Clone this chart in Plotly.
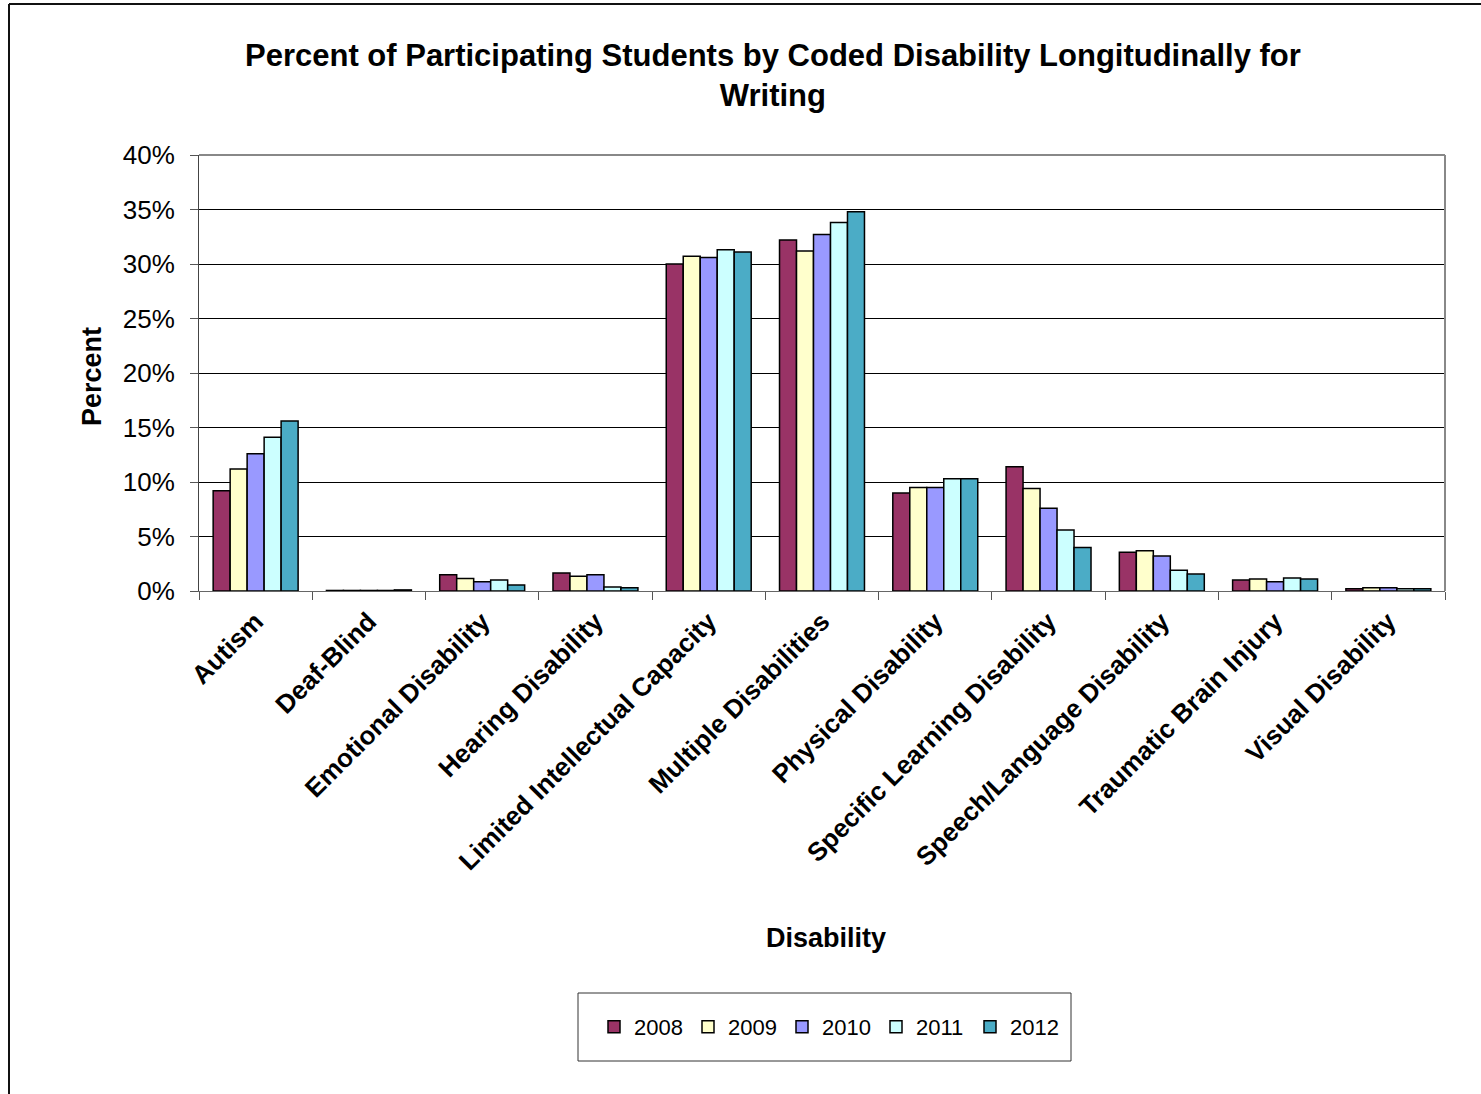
import plotly.graph_objects as go

categories = ["Autism", "Deaf-Blind", "Emotional Disability", "Hearing Disability",
              "Limited Intellectual Capacity", "Multiple Disabilities", "Physical Disability",
              "Specific Learning Disability", "Speech/Language Disability",
              "Traumatic Brain Injury", "Visual Disability"]
years = ["2008", "2009", "2010", "2011", "2012"]
v2008 = [9.2, 0.05, 1.5, 1.65, 30.0, 32.2, 9.0, 11.4, 3.55, 1.0, 0.2]
v2009 = [11.2, 0.05, 1.15, 1.35, 30.7, 31.2, 9.5, 9.4, 3.7, 1.1, 0.3]
v2010 = [12.6, 0.05, 0.85, 1.5, 30.6, 32.7, 9.5, 7.6, 3.2, 0.85, 0.3]
v2011 = [14.1, 0.05, 1.0, 0.37, 31.3, 33.8, 10.3, 5.6, 1.9, 1.2, 0.2]
v2012 = [15.6, 0.1, 0.55, 0.3, 31.1, 34.8, 10.3, 4.0, 1.55, 1.1, 0.2]
series = [v2008, v2009, v2010, v2011, v2012]
colors = ["#993366", "#FFFFCC", "#9999FF", "#CCFFFF", "#4BACC6"]
y_ticks = [0, 5, 10, 15, 20, 25, 30, 35, 40]

FONT = "Arial, 'Liberation Sans', sans-serif"
W, H = 1481, 1094
L, R, T, B = 199, 1445, 155, 591


def px(x):
    return (x - L) / (R - L)


def py(y):
    return (B - y) / (B - T)


fig = go.Figure()
for yr, vals, c in zip(years, series, colors):
    fig.add_trace(go.Bar(name=yr, x=categories, y=vals, marker_color=c,
                         marker_line_color="#000000", marker_line_width=1.5))

fig.update_layout(
    width=W, height=H,
    margin=dict(l=L, r=W - R, t=T, b=H - B, autoexpand=False),
    paper_bgcolor="white", plot_bgcolor="white",
    barmode="group", bargap=0.25, bargroupgap=0,
    font=dict(family=FONT, color="black"),
    showlegend=True,
    legend=dict(orientation="h", x=px(594), y=py(1027), xanchor="left", yanchor="middle",
                font=dict(size=22, family=FONT), bgcolor="rgba(0,0,0,0)",
                borderwidth=0, entrywidth=49, entrywidthmode="pixels",
                itemwidth=30, tracegroupgap=0),
    xaxis=dict(type="category", tickangle=-45, tickson="boundaries", ticks="outside",
               ticklen=8, tickcolor="#555555", showline=True, linecolor="#666666",
               linewidth=1, showgrid=False, automargin=False, ticklabelstandoff=4,
               tickfont=dict(size=26, family=FONT, weight="bold"),
               mirror=False),
    yaxis=dict(range=[0, 40], tickvals=y_ticks, ticktext=[f"{v}%" for v in y_ticks],
               ticks="outside", ticklen=8, tickcolor="#555555", showline=True,
               linecolor="#444444", linewidth=1, showgrid=True, gridcolor="#000000",
               gridwidth=1, zeroline=False, automargin=False, ticklabelstandoff=10,
               tickfont=dict(size=26, family=FONT)),
    annotations=[
        dict(text="<b>Percent of Participating Students by Coded Disability Longitudinally for<br>Writing</b>",
             x=px(773), y=py(75), xref="paper", yref="paper", showarrow=False,
             font=dict(size=31, family=FONT), xanchor="center", yanchor="middle"),
        dict(text="<b>Percent</b>", x=px(92), y=py(377), xref="paper", yref="paper",
             showarrow=False, textangle=-90, font=dict(size=27, family=FONT),
             xanchor="center", yanchor="middle"),
        dict(text="<b>Disability</b>", x=px(826), y=py(938), xref="paper", yref="paper",
             showarrow=False, font=dict(size=27, family=FONT),
             xanchor="center", yanchor="middle"),
    ],
    shapes=[
        # outer chart frame (left and top edges visible)
        dict(type="line", xref="paper", yref="paper", x0=px(9), x1=px(9), y0=py(4), y1=py(1100),
             line=dict(color="#111111", width=2)),
        dict(type="line", xref="paper", yref="paper", x0=px(9), x1=px(1490), y0=py(4), y1=py(4),
             line=dict(color="#111111", width=2)),
        # plot area border (top and right)
        dict(type="line", xref="paper", yref="paper", x0=0, x1=1, y0=1, y1=1,
             line=dict(color="#888888", width=2)),
        dict(type="line", xref="paper", yref="paper", x0=1, x1=1, y0=0, y1=1,
             line=dict(color="#888888", width=2)),
        # legend box
        dict(type="rect", xref="paper", yref="paper", x0=px(578), x1=px(1071),
             y0=py(993), y1=py(1061), line=dict(color="#333333", width=1),
             fillcolor="rgba(0,0,0,0)"),
    ],
)

fig.write_html("out.html")
